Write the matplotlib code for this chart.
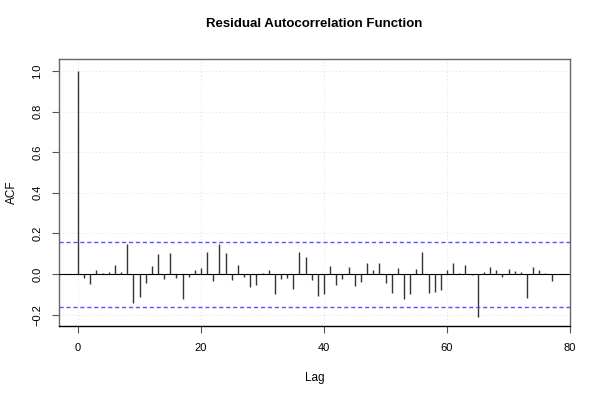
import matplotlib
matplotlib.use("Agg")
import matplotlib.pyplot as plt

plt.rcParams['font.family'] = ['Liberation Sans', 'DejaVu Sans']

# autocorrelation of residuals, lag 0..77
lags = list(range(78))
acf = [
    1.000, -0.021, -0.048, 0.020, 0.007, 0.008, 0.044, 0.008, 0.148, -0.141,
    -0.112, -0.046, 0.039, 0.099, -0.023, 0.102, -0.020, -0.123, -0.013, 0.020,
    0.030, 0.107, -0.034, 0.148, 0.102, -0.031, 0.044, -0.016, -0.066, -0.052,
    0.005, 0.020, -0.097, -0.023, -0.018, -0.075, 0.108, 0.085, -0.031, -0.107,
    -0.100, 0.039, -0.056, -0.023, 0.036, -0.057, -0.041, 0.052, 0.018, 0.052,
    -0.046, -0.092, 0.030, -0.121, -0.097, 0.025, 0.107, -0.094, -0.090, -0.077,
    0.021, 0.054, 0.005, 0.044, -0.007, -0.210, 0.010, 0.034, 0.018, -0.016,
    0.023, 0.015, 0.008, -0.117, 0.036, 0.020, 0.005, -0.033,
]
conf_bound = 0.16

x_ticks = [0, 20, 40, 60, 80]
y_ticks = [-0.2, 0.0, 0.2, 0.4, 0.6, 0.8, 1.0]

fig = plt.figure(figsize=(6, 4), dpi=100)
ax = fig.add_axes([0.0983, 0.185, 0.8517, 0.6675])

# faint dotted grid at the ticks
for t in x_ticks:
    ax.axvline(t, color='#e6e6e6', linestyle=(0, (1, 2)), linewidth=0.8, zorder=0)
for t in y_ticks:
    ax.axhline(t, color='#e6e6e6', linestyle=(0, (1, 2)), linewidth=0.8, zorder=0)

ax.vlines(lags, 0, acf, color='#333333', linewidth=1.0, zorder=2)
ax.axhline(0, color='black', linewidth=0.8, zorder=3)
ax.axhline(conf_bound, color='#5555ff', linestyle=(0, (3, 2)), linewidth=1.0, zorder=3)
ax.axhline(-conf_bound, color='#5555ff', linestyle=(0, (3, 2)), linewidth=1.0, zorder=3)

ax.set_xlim(-3.1, 80)
ax.set_ylim(-0.256, 1.059)
ax.set_xticks(x_ticks)
ax.set_yticks(y_ticks)
ax.set_yticklabels([f'{v:.1f}'.replace('-', '\u2212') for v in y_ticks],
                   rotation=90, va='center')
ax.tick_params(axis='both', direction='out', length=5, width=0.8,
               labelsize=8, color='#555555', pad=7)

for s in ax.spines.values():
    s.set_color('#666666')
    s.set_linewidth(1.0)
ax.spines['bottom'].set_color('black')

ax.set_xlabel('Lag', fontsize=8.5, labelpad=14)
ax.set_ylabel('ACF', fontsize=8.5, labelpad=10)
ax.set_title('Residual Autocorrelation Function', fontsize=9.5,
             fontweight='bold', pad=23)

fig.savefig('out.png', dpi=100)
